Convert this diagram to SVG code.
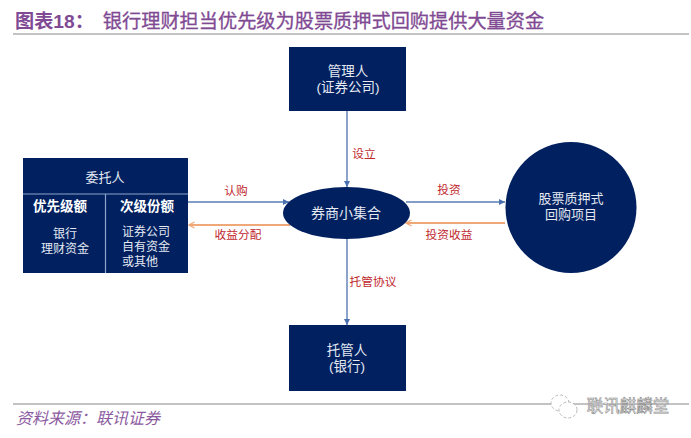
<svg xmlns="http://www.w3.org/2000/svg" width="691" height="438" viewBox="0 0 691 438">
<style>
text{font-family:"Liberation Sans","Noto Sans CJK SC",sans-serif;text-anchor:middle}
.n{fill:#002060}
.w{fill:#e4e9f2;font-size:13px}
.s{fill:#e4e9f2;font-size:12px}
.b{fill:#fff;font-size:13.500px;font-weight:700}
.r{fill:#c0282d;font-size:11.700px}
.t{fill:#7f4a93;font-size:19.200px;font-weight:700}
.bl{stroke:#5b7db5;stroke-width:1.400;fill:none;marker-end:url(#mb)}
.or{stroke:#f0a878;stroke-width:2;fill:none;marker-end:url(#mo)}
.rule{stroke:#c4c2c4;stroke-width:2}
.sep{stroke:#8ea6cc;stroke-width:1.200}
</style>
<defs>
<marker id="mb" markerWidth="7" markerHeight="7" refX="6" refY="3" orient="auto" markerUnits="userSpaceOnUse"><path d="M0 0L6 3L0 6z" fill="#4a6fae"/></marker>
<marker id="mo" markerWidth="8" markerHeight="8" refX="6.500" refY="3.500" orient="auto" markerUnits="userSpaceOnUse"><path d="M1 0.500L6.500 3.500L1 6.500" fill="none" stroke="#f0a878" stroke-width="1.400"/></marker>
</defs>
<rect width="691" height="438" fill="#fff"/>
<g id="title">
<text class="t" x="15" y="28" style="text-anchor:start">图表18：</text>
<text class="t" x="323.500" y="28" style="font-weight:400;stroke:#7f4a93;stroke-width:0.300">银行理财担当优先级为股票质押式回购提供大量资金</text>
<line class="rule" x1="13" y1="34" x2="689" y2="34"/>
</g>
<g id="connectors">
<line class="bl" x1="347" y1="111" x2="347" y2="187"/>
<line class="bl" x1="347" y1="239" x2="347" y2="325"/>
<line class="bl" x1="188" y1="202" x2="289" y2="202"/>
<line class="or" x1="290" y1="225" x2="189" y2="225"/>
<line class="bl" x1="406" y1="202" x2="505" y2="202"/>
<line class="or" x1="505" y1="223" x2="406" y2="223"/>
<text class="r" x="364" y="158">设立</text>
<text class="r" x="373" y="286">托管协议</text>
<text class="r" x="236" y="195">认购</text>
<text class="r" x="238" y="239">收益分配</text>
<text class="r" x="449" y="194">投资</text>
<text class="r" x="449" y="239">投资收益</text>
</g>
<g id="manager">
<rect class="n" x="289" y="47" width="117" height="64"/>
<text class="w" x="348" y="76" style="font-size:13.500px">管理人</text>
<text class="w" x="348" y="92" style="font-size:13.500px">(证券公司)</text>
</g>
<g id="custodian">
<rect class="n" x="289" y="325" width="117" height="66"/>
<text class="w" x="347" y="355" style="font-size:13.500px">托管人</text>
<text class="w" x="347" y="371" style="font-size:13.500px">(银行)</text>
</g>
<g id="trustor">
<rect class="n" x="23" y="158" width="165" height="115"/>
<line class="sep" x1="23" y1="194" x2="188" y2="194"/>
<line class="sep" x1="105.500" y1="194" x2="105.500" y2="273"/>
<text class="w" x="105" y="182">委托人</text>
<text class="b" x="60" y="211">优先级额</text>
<text class="b" x="147" y="211">次级份额</text>
<text class="s" x="65" y="238">银行<tspan x="65" dy="15">理财资金</tspan></text>
<text class="s" x="122" y="236" style="text-anchor:start">证券公司<tspan x="122" dy="15">自有资金</tspan><tspan x="122" dy="15">或其他</tspan></text>
</g>
<g id="collective">
<ellipse class="n" cx="346.500" cy="213" rx="63.500" ry="26"/>
<text class="w" x="346" y="218" style="font-size:14px">券商小集合</text>
</g>
<g id="project">
<circle class="n" cx="571" cy="207.500" r="65.500"/>
<text class="w" x="571" y="203">股票质押式</text>
<text class="w" x="571" y="219">回购项目</text>
</g>
<g id="footer">
<line class="rule" x1="13" y1="404" x2="689" y2="404"/>
<text x="88" y="424" font-size="16" font-style="italic" fill="#8a5aa0">资料来源：联讯证券</text>
<g fill="#fff" stroke="#a8a8a8" stroke-width="0.800" stroke-dasharray="3 2">
<ellipse cx="560" cy="403" rx="9" ry="8"/>
<ellipse cx="568" cy="410" rx="9" ry="8"/>
</g>
<text x="628" y="412" font-size="16.500" fill="#fff" stroke="#8c8c8c" stroke-width="0.600">联讯麒麟堂</text>
</g>
</svg>
